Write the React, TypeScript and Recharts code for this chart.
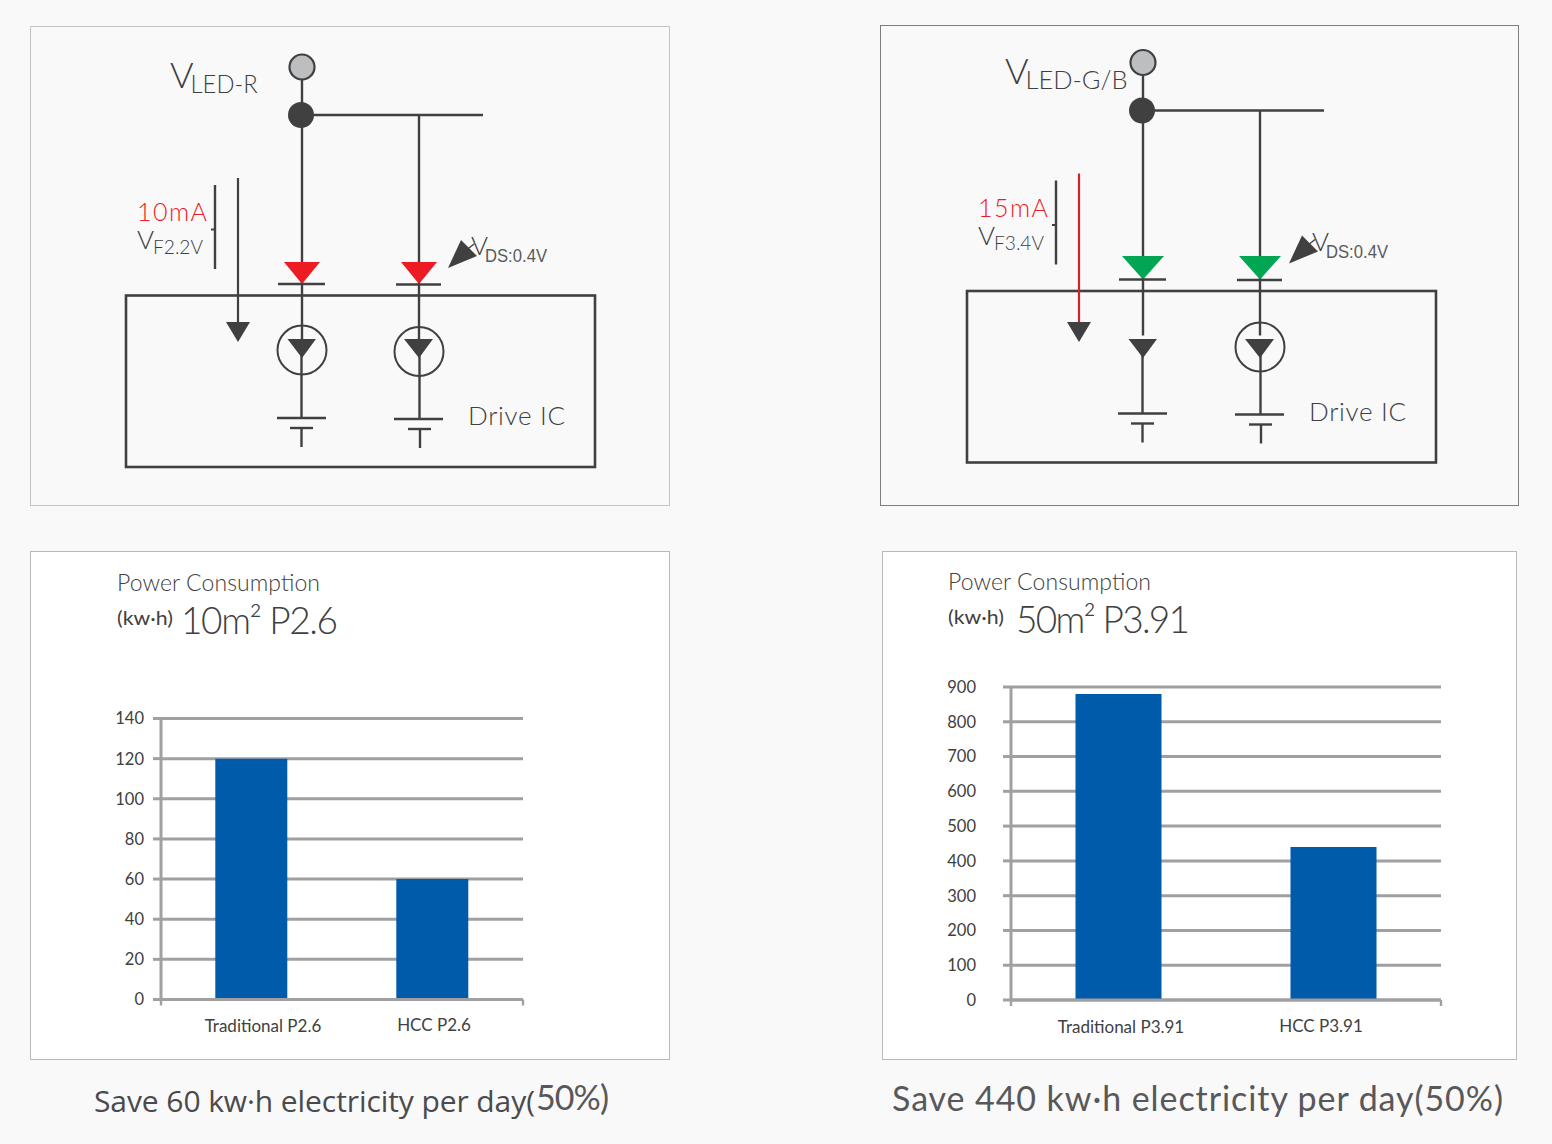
import React from "react";
import { BarChart, Bar, XAxis, YAxis, CartesianGrid } from "recharts";

const categoriesP26 = ["Traditional P2.6", "HCC P2.6"];
const valuesP26 = [120, 60];
const ticksP26 = [0, 20, 40, 60, 80, 100, 120, 140];

const categoriesP391 = ["Traditional P3.91", "HCC P3.91"];
const valuesP391 = [880, 440];
const ticksP391 = [0, 100, 200, 300, 400, 500, 600, 700, 800, 900];

const edgeTicks = [0, 1, 2];

const DARK = "#404041";
const GRID = "#a0a0a3";
const BLUE = "#005bab";
const GEOMETRIC = "Lato, 'Open Sans', sans-serif";
const HUMANIST = "Lato, 'Open Sans', sans-serif";

type PowerChartProps = {
  left: number;
  top: number;
  width: number;
  height: number;
  plot: { left: number; right: number; top: number; bottom: number };
  categories: string[];
  values: number[];
  ticks: number[];
  labelShift: number[];
  labelDrop: number[];
  tickGap: number;
};

const PowerChart = ({ left, top, width, height, plot, categories, values, ticks, labelShift, labelDrop, tickGap }: PowerChartProps) => {
  const rows = categories.map((name, i) => ({ name, value: values[i] }));
  const axisW = 40;
  const axisH = 40;
  return (
    <div style={{ position: "absolute", left, top }}>
      <BarChart
        width={width}
        height={height}
        data={rows}
        barCategoryGap="30%"
        margin={{
          top: plot.top - top,
          left: plot.left - left - axisW,
          right: left + width - plot.right,
          bottom: top + height - plot.bottom - axisH - 1,
        }}
      >
        <CartesianGrid horizontal vertical={false} stroke={GRID} strokeWidth={3} />
        {/* ticks sit on the category edges, so they need their own numeric axis */}
        <XAxis
          xAxisId={0}
          type="number"
          domain={[0, 2]}
          ticks={edgeTicks}
          interval={0}
          height={1}
          tickSize={6}
          tickFormatter={() => ""}
          axisLine={{ stroke: GRID, strokeWidth: 3 }}
          tickLine={{ stroke: GRID, strokeWidth: 2.4 }}
        />
        <XAxis
          xAxisId="labels"
          dataKey="name"
          interval={0}
          height={axisH}
          axisLine={false}
          tickLine={false}
          tick={(p: any) => (
            <text
              x={p.x + labelShift[p.index]}
              y={p.y + labelDrop[p.index]}
              textAnchor="middle"
              fontFamily={HUMANIST}
              fontSize={17}
              fill={DARK}
            >
              {p.payload.value}
            </text>
          )}
        />
        <YAxis
          width={axisW}
          domain={[ticks[0], ticks[ticks.length - 1]]}
          ticks={ticks}
          interval={0}
          tickSize={8}
          tickMargin={tickGap}
          axisLine={{ stroke: GRID, strokeWidth: 3 }}
          tickLine={{ stroke: GRID, strokeWidth: 3 }}
          tick={{ fontFamily: HUMANIST, fontSize: 16.5, fill: DARK }}
        />
        <Bar xAxisId="labels" dataKey="value" fill={BLUE} isAnimationActive={false} />
      </BarChart>
    </div>
  );
};

type CircuitProps = {
  dx: number;
  dy: number;
  diode: string;
  arrow: string;
  amps: string;
  volts: string;
  rail: string;
  railX: number;
  railEnd: number;
  wide: boolean;
  firstSource: boolean;
};

const tri = (pts: number[][], fill: string) => <polygon points={pts.map((p) => p.join(",")).join(" ")} fill={fill} />;

const seg = (x1: number, y1: number, x2: number, y2: number, w = 2.4, c = DARK) => (
  <line x1={x1} y1={y1} x2={x2} y2={y2} stroke={c} strokeWidth={w} />
);

const Circuit = ({ dx, dy, diode, arrow, amps, volts, rail, railX, railEnd, wide, firstSource }: CircuitProps) => {
  const half = wide ? 21 : 18;
  const diodeTop = wide ? 260.5 : 262;
  const sink = wide ? 4.5 : 0;
  return (
    <g transform={`translate(${dx},${dy})`} fontFamily={GEOMETRIC} fontWeight={300} fill={DARK}>
      {seg(302, 80, 302, 283)}
      {seg(301, 115, railEnd, 115)}
      {seg(419, 115, 419, 284)}
      <circle cx={302} cy={67} r={12.5} fill="#bcbec0" stroke={DARK} strokeWidth={2.2} />
      <circle cx={301} cy={115} r={13} fill={DARK} />

      {tri([[302 - half, diodeTop], [302 + half, diodeTop], [302, 284]], diode)}
      {tri([[419 - half, diodeTop], [419 + half, diodeTop], [419, 284]], diode)}
      {seg(278, 284, 325, 284)}
      {seg(396, 284.5, 441, 284.5)}

      <rect x={126} y={295.5} width={469} height={171.5} fill="none" stroke={DARK} strokeWidth={2.6} />

      {seg(302, 284, 302, 340)}
      {seg(419, 284, 419, 340)}
      {firstSource && <circle cx={302} cy={350} r={24.5} fill="none" stroke={DARK} strokeWidth={2} />}
      <circle cx={419} cy={351.5} r={24.5} fill="none" stroke={DARK} strokeWidth={2} />
      {tri([[287.5, 339 + sink], [316, 339 + sink], [302, 358 + sink]], DARK)}
      {tri([[404, 339 + sink], [433, 339 + sink], [419, 358 + sink]], DARK)}
      {seg(301.5, 355, 301.5, 418)}
      {seg(419.5, 355, 419.5, 419)}
      {seg(277, 418, 326, 418)}
      {seg(394, 419, 443, 419)}
      {seg(290, 428, 313, 428)}
      {seg(408, 429, 431, 429)}
      {seg(301.5, 428, 301.5, 447)}
      {seg(420, 429, 420, 448)}

      {seg(238, 178, 238, 323 + sink, 2.2, arrow)}
      {tri([[226, 322 + sink], [250, 322 + sink], [238, 342 + sink]], DARK)}

      {seg(215, 185, 215, 269)}
      {seg(211, 229.5, 215, 229.5, 2)}

      {tri([[448, 268], [461, 240], [477, 256]], DARK)}
      {seg(464, 252, 474, 244, 1.4)}

      <text x={137} y={221} fontSize={25} fill="#ed1c24" textLength={70} lengthAdjust="spacing">{amps}</text>
      <text x={137} y={249} fontSize={26}>V</text>
      <text x={153} y={254} fontSize={20} textLength={50} lengthAdjust="spacingAndGlyphs">{volts}</text>

      <text x={railX} y={88} fontSize={36}>
        V
        <tspan dx={-3} dy={5} fontSize={26} textLength={rail.length > 5 ? 102 : 67} lengthAdjust="spacingAndGlyphs">{rail}</tspan>
      </text>

      <text x={471} y={255} fontSize={26}>V</text>
      <text x={485} y={262} fontSize={19} fontFamily="'Liberation Sans', sans-serif" fontWeight={400} fill="#58595b" textLength={62} lengthAdjust="spacingAndGlyphs">DS:0.4V</text>

      <text x={468} y={425} fontSize={26} textLength={97} lengthAdjust="spacing">Drive IC</text>
    </g>
  );
};

const Headline = ({ x, y, bigX, bigW, big }: { x: number; y: number; bigX: number; bigW: number; big: string }) => (
  <g fontFamily={GEOMETRIC} fontWeight={300} fill={DARK}>
    <text x={x} y={y} fontSize={23} textLength={203} lengthAdjust="spacing">Power Consumption</text>
    <text x={x} y={y + 34} fontSize={18.5} fontWeight={400} textLength={56} lengthAdjust="spacingAndGlyphs">(kw·h)</text>
    <text x={bigX} y={y + 43} fontSize={37} textLength={bigW} lengthAdjust="spacing">{big}</text>
  </g>
);

const panel = (left: number, top: number, width: number, height: number, border: string, background: string) => (
  <div style={{ position: "absolute", left, top, width, height, boxSizing: "border-box", border: `1.5px solid ${border}`, background }} />
);

export default function App() {
  return (
    <div style={{ position: "absolute", left: 0, top: 0, width: 1552, height: 1144, background: "#f9f9f9", overflow: "hidden" }}>
      {panel(30, 26, 640, 480, "#c4c4c4", "#f9f9f9")}
      {panel(880, 25, 639, 481, "#7d7d7d", "#f9f9f9")}
      {panel(30, 551, 640, 509, "#b9b9b9", "#ffffff")}
      {panel(882, 551, 635, 509, "#b9b9b9", "#ffffff")}

      <PowerChart
        left={31}
        top={552}
        width={638}
        height={507}
        plot={{ left: 161, right: 523, top: 718.5, bottom: 999.5 }}
        categories={categoriesP26}
        values={valuesP26}
        ticks={ticksP26}
        labelShift={[11.5, 1.5]}
        labelDrop={[23, 22]}
        tickGap={9}
      />
      <PowerChart
        left={883}
        top={552}
        width={633}
        height={507}
        plot={{ left: 1011, right: 1441, top: 687, bottom: 1000 }}
        categories={categoriesP391}
        values={valuesP391}
        ticks={ticksP391}
        labelShift={[2.5, -12.5]}
        labelDrop={[24, 23]}
        tickGap={27}
      />

      <svg width={1552} height={1144} style={{ position: "absolute", left: 0, top: 0, pointerEvents: "none" }}>
        <Circuit
          dx={0}
          dy={0}
          diode="#ed1c24"
          arrow={DARK}
          amps="10mA"
          volts="F2.2V"
          rail="LED-R"
          railX={170}
          railEnd={483}
          wide={false}
          firstSource
        />
        <Circuit
          dx={841}
          dy={-4.5}
          diode="#00a651"
          arrow="#d2232a"
          amps="15mA"
          volts="F3.4V"
          rail="LED-G/B"
          railX={164}
          railEnd={483}
          wide
          firstSource={false}
        />
        <Headline x={117} y={591} bigX={181} bigW={157} big="10m² P2.6" />
        <Headline x={948} y={590} bigX={1016} bigW={174} big="50m² P3.91" />
        <text x={94} y={1112} fontFamily="'Open Sans', sans-serif" fontSize={30} fill="#4a4a4c" textLength={441} lengthAdjust="spacing">
          Save 60 kw·h electricity per day(
        </text>
        <text x={536} y={1110} fontFamily={GEOMETRIC} fontSize={34} fill="#58585a" textLength={73} lengthAdjust="spacing">
          50%)
        </text>
        <text x={892} y={1111} fontFamily={GEOMETRIC} fontSize={34} fill="#58585a" textLength={611} lengthAdjust="spacing">
          Save 440 kw·h electricity per day(50%)
        </text>
      </svg>
    </div>
  );
}
